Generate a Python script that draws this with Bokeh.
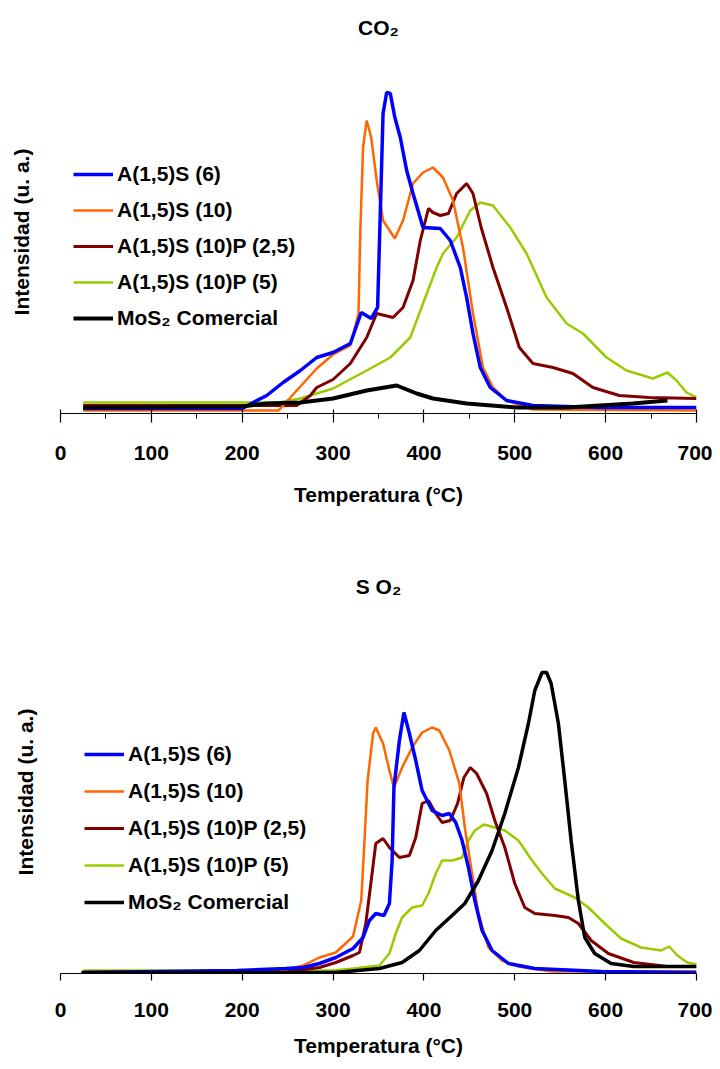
from bokeh.plotting import figure
from bokeh.models import Range1d, FixedTicker, Legend, LegendItem
from bokeh.layouts import column
from bokeh.embed import file_html
from bokeh.resources import INLINE

# ---------------- data (temperature in °C, intensity in arbitrary units) ----------------
labels = ["A(1,5)S (6)", "A(1,5)S (10)", "A(1,5)S (10)P (2,5)", "A(1,5)S (10)P (5)", "MoS\u2082 Comercial"]
colors = ["#0000FF", "#FF6600", "#800000", "#99CC00", "#000000"]
x_ticks = [0, 100, 200, 300, 400, 500, 600, 700]

# CO2 panel
co2_blue_t = [25, 200, 212, 227, 245, 264, 282, 300, 319, 331, 342, 349, 353, 355, 359, 363, 368, 374, 381, 388, 399, 418, 429, 440, 447, 454, 462, 473, 491, 520, 593, 700]
co2_blue_i = [5, 5, 11, 18, 31, 43, 56, 61, 70, 101, 95, 106, 233, 300, 321, 320, 296, 276, 243, 220, 186, 185, 173, 146, 116, 80, 46, 26, 13, 8, 6, 6]

co2_orange_t = [25, 240, 253, 264, 282, 300, 319, 328, 330, 333, 337, 342, 348, 355, 368, 377, 388, 399, 410, 421, 432, 443, 454, 465, 476, 491, 520, 700]
co2_orange_i = [3, 3, 16, 27, 45, 59, 68, 100, 183, 266, 293, 276, 233, 193, 175, 193, 230, 241, 246, 236, 213, 166, 100, 46, 26, 13, 4, 3]

co2_red_t = [25, 260, 275, 282, 300, 319, 337, 348, 366, 377, 388, 396, 405, 410, 418, 427, 436, 447, 454, 463, 476, 491, 505, 520, 542, 564, 586, 615, 648, 700]
co2_red_i = [8, 8, 18, 26, 34, 50, 76, 100, 96, 106, 133, 173, 205, 201, 198, 200, 220, 230, 220, 186, 146, 106, 66, 50, 46, 40, 26, 18, 16, 15]

co2_green_t = [25, 240, 264, 282, 300, 337, 363, 385, 399, 414, 421, 436, 451, 462, 476, 495, 513, 535, 557, 575, 601, 623, 652, 668, 678, 689, 700]
co2_green_i = [11, 11, 15, 20, 25, 43, 56, 76, 110, 146, 160, 176, 203, 211, 208, 186, 160, 116, 90, 80, 56, 43, 35, 41, 33, 21, 16]

co2_black_t = [25, 200, 227, 264, 300, 337, 370, 392, 410, 447, 502, 557, 630, 668]
co2_black_i = [6, 7, 10, 11, 15, 23, 28, 20, 15, 10, 6, 6, 10, 13]

# SO2 panel
so2_blue_t = [25, 194, 248, 267, 285, 303, 322, 333, 340, 347, 356, 362, 365, 367, 373, 378, 384, 391, 398, 409, 420, 428, 435, 442, 449, 456, 464, 475, 493, 522, 595, 700]
so2_blue_i = [1, 3, 5, 6, 10, 16, 25, 36, 53, 60, 58, 70, 113, 186, 233, 261, 240, 213, 183, 163, 158, 160, 151, 133, 106, 73, 43, 23, 10, 5, 2, 1]

so2_orange_t = [25, 240, 267, 285, 303, 322, 331, 335, 338, 344, 347, 355, 362, 367, 376, 387, 398, 409, 417, 428, 439, 445, 453, 460, 471, 486, 504, 540, 700]
so2_orange_i = [1, 2, 8, 16, 21, 37, 73, 140, 193, 240, 246, 230, 203, 186, 206, 226, 241, 246, 243, 223, 190, 146, 100, 60, 26, 13, 7, 2, 2]

so2_red_t = [25, 260, 285, 303, 322, 329, 336, 342, 347, 355, 362, 373, 384, 391, 398, 405, 413, 420, 429, 437, 444, 451, 458, 469, 478, 489, 500, 511, 522, 544, 559, 570, 584, 603, 631, 668, 700]
so2_red_i = [1, 3, 6, 11, 18, 21, 50, 93, 130, 135, 126, 116, 118, 136, 170, 173, 160, 151, 153, 170, 196, 206, 200, 180, 153, 126, 90, 66, 60, 58, 56, 50, 33, 20, 11, 7, 7]

so2_green_t = [25, 300, 322, 351, 362, 369, 376, 387, 398, 405, 413, 420, 431, 442, 449, 456, 466, 478, 489, 504, 519, 530, 544, 566, 581, 599, 617, 639, 661, 670, 679, 690, 700]
so2_green_i = [3, 3, 5, 8, 20, 40, 56, 66, 68, 80, 100, 113, 113, 116, 133, 143, 149, 146, 143, 133, 113, 100, 85, 76, 66, 50, 35, 26, 23, 27, 18, 11, 9]

so2_black_t = [23, 303, 351, 376, 395, 413, 431, 445, 460, 475, 489, 504, 515, 522, 530, 535, 540, 548, 555, 562, 570, 577, 588, 606, 631, 700]
so2_black_i = [1, 1, 5, 11, 23, 43, 58, 70, 93, 123, 160, 206, 250, 283, 301, 301, 290, 250, 193, 133, 73, 36, 20, 10, 7, 7]

FONT = "Liberation Sans"


def make_panel(title, series, widths, height, mb_left, mb_right, mb_top, mb_bottom,
               minor, tick_in, tick_out, lab_standoff, axlab_standoff, ylab_standoff,
               title_standoff, legend_loc, legend_spacing):
    p = figure(width=712, height=height, output_backend="svg", toolbar_location=None,
               x_range=Range1d(0, 700), y_range=Range1d(0, 363),
               min_border_left=mb_left, min_border_right=mb_right,
               min_border_top=mb_top, min_border_bottom=mb_bottom)
    p.outline_line_color = None
    p.grid.visible = False
    p.background_fill_color = "white"
    p.border_fill_color = "white"

    p.title.text = title
    p.title.align = "center"
    p.title.text_font = FONT
    p.title.text_font_size = "21px"
    p.title.text_font_style = "bold"
    p.title.text_color = "black"
    p.title.standoff = title_standoff
    p.title.offset = -11

    xa = p.xaxis[0]
    xa.ticker = FixedTicker(ticks=x_ticks, minor_ticks=[50, 150, 250, 350, 450, 550, 650] if minor else [])
    xa.axis_line_color = "black"
    xa.axis_line_width = 1.2
    xa.major_tick_in = tick_in
    xa.major_tick_out = tick_out
    xa.major_tick_line_color = "black"
    xa.major_tick_line_width = 1.2
    xa.minor_tick_in = 0
    xa.minor_tick_out = 5
    xa.minor_tick_line_color = "black"
    xa.major_label_text_font = FONT
    xa.major_label_text_font_size = "21px"
    xa.major_label_text_font_style = "bold"
    xa.major_label_text_color = "black"
    xa.major_label_standoff = lab_standoff
    xa.axis_label = "Temperatura (°C)"
    xa.axis_label_text_font = FONT
    xa.axis_label_text_font_size = "21px"
    xa.axis_label_text_font_style = "bold"
    xa.axis_label_text_color = "black"
    xa.axis_label_standoff = axlab_standoff

    ya = p.yaxis[0]
    ya.ticker = FixedTicker(ticks=[])
    ya.axis_line_color = None
    ya.major_tick_line_color = None
    ya.minor_tick_line_color = None
    ya.major_tick_in = 0
    ya.major_tick_out = 0
    ya.major_label_standoff = 0
    ya.axis_label = "Intensidad (u. a.)"
    ya.axis_label_text_font = FONT
    ya.axis_label_text_font_size = "21px"
    ya.axis_label_text_font_style = "bold"
    ya.axis_label_text_color = "black"
    ya.axis_label_standoff = ylab_standoff

    # draw order: green, dark red, orange, blue, black
    drawn = {}
    for idx in [3, 2, 1, 0, 4]:
        t, i = series[idx]
        drawn[idx] = p.line(t, i, line_color=colors[idx], line_width=widths[idx])

    items = [LegendItem(label=labels[k], renderers=[drawn[k]]) for k in range(5)]
    legend = Legend(items=items, location=legend_loc, glyph_width=40, glyph_height=30,
                    label_height=30, spacing=legend_spacing, label_standoff=4,
                    padding=0, margin=0, border_line_color=None,
                    background_fill_alpha=0, label_text_font=FONT,
                    label_text_font_size="21px", label_text_font_style="bold",
                    label_text_color="black")
    p.add_layout(legend)
    return p


co2_series = [(co2_blue_t, co2_blue_i), (co2_orange_t, co2_orange_i), (co2_red_t, co2_red_i),
              (co2_green_t, co2_green_i), (co2_black_t, co2_black_i)]
so2_series = [(so2_blue_t, so2_blue_i), (so2_orange_t, so2_orange_i), (so2_red_t, so2_red_i),
              (so2_green_t, so2_green_i), (so2_black_t, so2_black_i)]

p1 = make_panel("CO\u2082", co2_series, [3.5, 2.5, 3, 2.5, 4], 523, 60, 15, 50, 110,
                True, 4, 9, 23, 20, 28, 24, (13, 80), 6)
p2 = make_panel("S O\u2082", so2_series, [3.5, 2.5, 3, 2.5, 3.5], 544, 56, 16, 87, 94,
                False, 0, 7, 22, 14, 24, 26, (24, 56), 7)

layout = column(p1, p2, spacing=0)
open("out.html", "w").write(file_html(layout, INLINE))
